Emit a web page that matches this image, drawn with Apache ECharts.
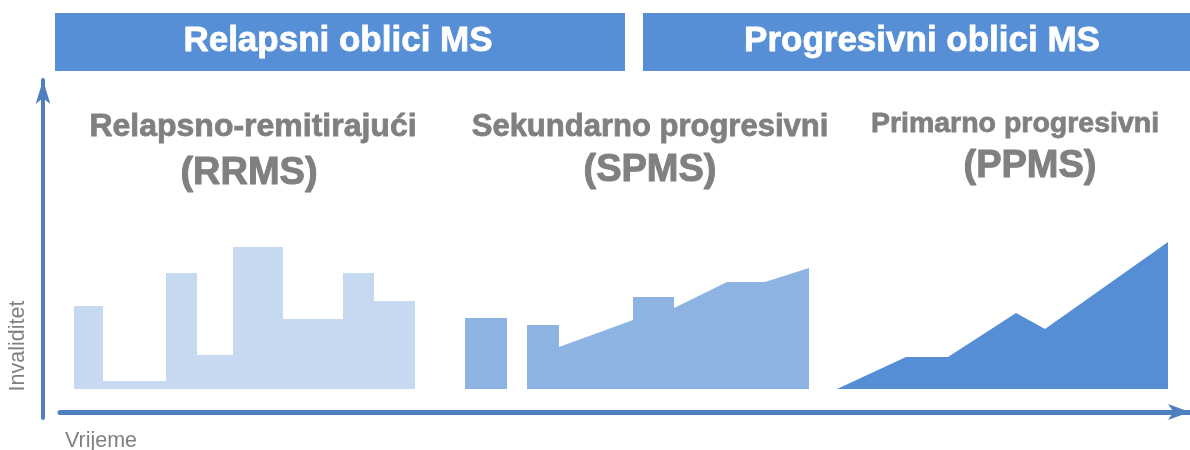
<!DOCTYPE html>
<html>
<head>
<meta charset="utf-8">
<style>
  html, body { margin: 0; padding: 0; background: #fff; }
  #chart-container { width: 1190px; height: 450px; }
</style>
<script src="https://cdn.jsdelivr.net/npm/echarts@6/dist/echarts.min.js"></script>
</head>
<body>
<div id="chart-container"></div>
<script>
// time (x) and disability (y) in arbitrary units
var rrms = [[1.4, 0], [1.4, 8.3], [4.3, 8.3], [4.3, 0.8], [10.6, 0.8], [10.6, 11.6], [13.7, 11.6], [13.7, 3.4],
  [17.3, 3.4], [17.3, 14.2], [22.3, 14.2], [22.3, 7.0], [28.3, 7.0], [28.3, 11.6], [31.4, 11.6], [31.4, 8.8],
  [35.5, 8.8], [35.5, 0]];
var spmsRelapse = [[40.5, 0], [40.5, 7.1], [44.7, 7.1], [44.7, 0]];
var spms = [[46.7, 0], [46.7, 6.4], [49.9, 6.4], [49.9, 4.2], [57.3, 6.9], [57.3, 9.2], [61.4, 9.2], [61.4, 8.1],
  [66.7, 10.7], [70.5, 10.7], [74.9, 12.1], [74.9, 0]];
var ppms = [[77.7, 0], [84.6, 3.2], [88.8, 3.2], [95.6, 7.6], [98.5, 6.0], [110.8, 14.7], [110.8, 0]];

var groupNames = ['Relapsni oblici MS', 'Progresivni oblici MS'];
var formNames = ['Relapsno-remitirajući', 'Sekundarno progresivni', 'Primarno progresivni'];
var formCodes = ['(RRMS)', '(SPMS)', '(PPMS)'];
var axisNames = ['Vrijeme', 'Invaliditet'];

var dom = document.getElementById('chart-container');
var myChart = echarts.init(dom, null, { renderer: 'canvas' });

var sans = '"Liberation Sans", Arial, Helvetica, sans-serif';
var gray = '#808080';
var axisColor = '#4f7fbf';

function area(name, data, color) {
  return {
    name: name,
    type: 'line',
    data: data,
    symbol: 'none',
    silent: true,
    lineStyle: { width: 0 },
    areaStyle: { color: color, opacity: 1 }
  };
}

// header boxes: [x, width, title centre]
var headerPos = [[55, 570, 338], [643, 547, 922]];
// form titles: [line1 x, line1 y, line1 size, line2 x, line2 y]
var formPos = [[253, 127, 32, 249, 174], [650, 127, 31, 650, 171], [1015, 124, 28.5, 1030, 167]];

var graphics = [];
groupNames.forEach(function (g, i) {
  graphics.push({
    type: 'rect', silent: true,
    shape: { x: headerPos[i][0], y: 13, width: headerPos[i][1], height: 58 },
    style: { fill: '#568fd6' }
  });
  graphics.push({
    type: 'text', silent: true, x: headerPos[i][2], y: 41,
    style: {
      text: g, fill: '#fff', stroke: '#fff', lineWidth: 0.8,
      font: 'bold 35px ' + sans, textAlign: 'center', textVerticalAlign: 'middle'
    }
  });
});
formNames.forEach(function (f, i) {
  var p = formPos[i];
  graphics.push({
    type: 'text', silent: true, x: p[0], y: p[1],
    style: {
      text: f, fill: gray, stroke: gray, lineWidth: 0.8,
      font: 'bold ' + p[2] + 'px ' + sans, textAlign: 'center', textVerticalAlign: 'middle'
    }
  });
  graphics.push({
    type: 'text', silent: true, x: p[3], y: p[4],
    style: {
      text: formCodes[i], fill: gray, stroke: gray, lineWidth: 1,
      font: 'bold 38px ' + sans, textAlign: 'center', textVerticalAlign: 'middle'
    }
  });
});
graphics.push({
  type: 'text', silent: true, x: 65, y: 441,
  style: { text: axisNames[0], fill: gray, font: '21.5px ' + sans, textAlign: 'left', textVerticalAlign: 'middle' }
});
graphics.push({
  type: 'text', silent: true, x: 18, y: 346, rotation: Math.PI / 2,
  style: { text: axisNames[1], fill: gray, font: '21.5px ' + sans, textAlign: 'center', textVerticalAlign: 'middle' }
});

var option = {
  animation: false,
  grid: { left: 60, right: 0, top: 80, bottom: 32 },
  xAxis: {
    type: 'value', min: 0, max: 113, offset: -6,
    splitLine: { show: false }, axisTick: { show: false }, axisLabel: { show: false },
    axisLine: { onZero: false, symbol: ['none', 'arrow'], symbolSize: [12, 22], lineStyle: { color: axisColor, width: 5 } }
  },
  yAxis: {
    type: 'value', min: -2.9, max: 30.9, offset: 17,
    splitLine: { show: false }, axisTick: { show: false }, axisLabel: { show: false },
    axisLine: { onZero: false, symbol: ['none', 'arrow'], symbolSize: [11, 24], lineStyle: { color: axisColor, width: 4 } }
  },
  graphic: graphics,
  series: [
    area('RRMS', rrms, '#c6d9f0'),
    area('SPMS relaps', spmsRelapse, '#8db3e2'),
    area('SPMS', spms, '#8db3e2'),
    area('PPMS', ppms, '#558ed5')
  ]
};

myChart.setOption(option);
window.addEventListener('resize', myChart.resize);
</script>
</body>
</html>
